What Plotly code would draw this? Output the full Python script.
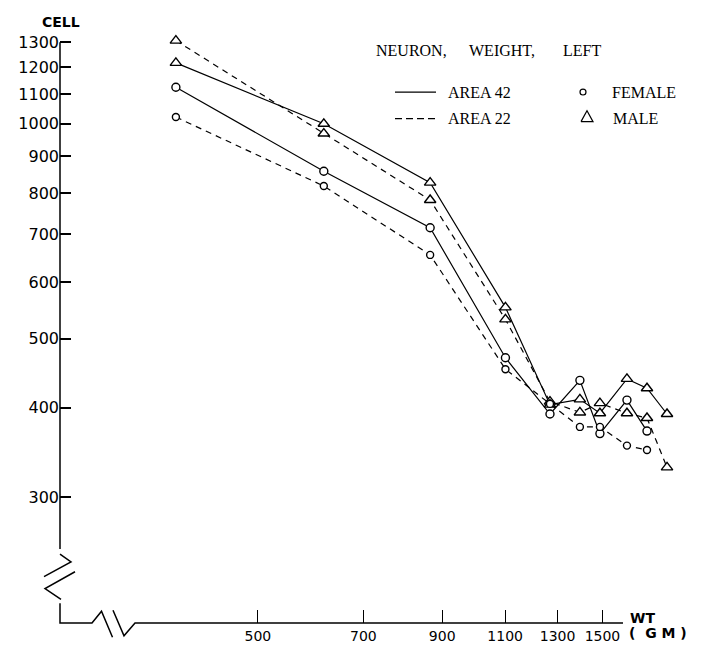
import plotly.graph_objects as go

# ---- data ----
weight_gm = [385, 617, 866, 1101, 1269, 1396, 1488, 1622, 1729, 1843]
female_area42 = [1125, 858, 715, 470, 392, 437, 368, 410, 371]
female_area22 = [1022, 818, 655, 453, 405, 376, 376, 354, 349]
male_area42 = [1217, 1000, 827, 553, 404, 411, 393, 439, 426, 392]
male_area22 = [1308, 969, 782, 532, 408, 394, 406, 393, 387, 330]

y_ticks = [300, 400, 500, 600, 700, 800, 900, 1000, 1100, 1200, 1300]
x_ticks = [500, 700, 900, 1100, 1300, 1500]

W, H = 717, 656
L, R, T, B = 60, 690, 30, 632  # plot area in pixels


def P(px, py):
    return (px - L) / (R - L), (B - py) / (B - T)


fig = go.Figure()

series = [
    (male_area22, "triangle-up", "6px,5px", 10),
    (male_area42, "triangle-up", "solid", 10),
    (female_area42, "circle", "solid", 8),
    (female_area22, "circle", "6px,5px", 7),
]
for vals, sym, dash, sz in series:
    fig.add_trace(go.Scatter(
        x=weight_gm[:len(vals)], y=vals, mode="lines+markers",
        line=dict(color="black", width=1.2, dash=dash),
        marker=dict(symbol=sym, size=sz, color="white",
                    line=dict(color="black", width=1.4)),
        cliponaxis=False, showlegend=False, hoverinfo="skip"))

shapes = []


def seg(points, width=1.5, dash="solid"):
    d = ""
    for i, (px, py) in enumerate(points):
        x, y = P(px, py)
        d += ("M" if i == 0 else "L") + f"{x:.5f},{y:.5f} "
    shapes.append(dict(type="path", path=d, xref="paper", yref="paper",
                       line=dict(color="black", width=width, dash=dash)))


# axes with break marks
seg([(60, 42.5), (60, 557)])
seg([(60, 562), (71, 570), (44, 585)])
seg([(75, 580), (45, 597), (61, 608)])
seg([(60, 612), (60, 632), (92, 632), (101.5, 620), (112.5, 646.5)])
seg([(113, 619), (124, 645), (135, 632), (623, 632)])

# legend samples
seg([(395, 93), (436, 93)], width=1.2)
seg([(395, 120), (436, 120)], width=1.2, dash="7px,4px")
cx0, cy0 = P(580, 90)
cx1, cy1 = P(586, 96)
shapes.append(dict(type="circle", xref="paper", yref="paper",
                   x0=cx0, y0=cy0, x1=cx1, y1=cy1,
                   line=dict(color="black", width=1.2)))
seg([(581, 123), (593, 123), (587, 112), (581, 123)], width=1.2)

fig.update_layout(shapes=shapes)

ann = []


def text(t, px, py, size, family, bold=False, xanchor="left"):
    x, y = P(px, py)
    ann.append(dict(text=f"<b>{t}</b>" if bold else t, x=x, y=y,
                    xref="paper", yref="paper", showarrow=False,
                    xanchor=xanchor, yanchor="middle",
                    font=dict(size=size, family=family, color="black")))


serif = "Liberation Serif"
text("NEURON,", 374, 51, 16, serif)
text("WEIGHT,", 467, 51, 16, serif)
text("LEFT", 561, 51, 16, serif)
text("AREA 42", 446, 93, 16, serif)
text("AREA 22", 446, 120, 16, serif)
text("FEMALE", 610, 93, 16, serif)
text("MALE", 611, 120, 16, serif)
text("CELL", 61, 22, 14, "DejaVu Sans", bold=True, xanchor="center")
text("WT", 628, 627, 14, "DejaVu Sans", bold=True)
nb = "\u00a0"
text(f"({nb}{nb}G{nb}M{nb})", 627, 642, 14, "DejaVu Sans", bold=True)

fig.update_layout(annotations=ann)

xr = [2.42499, 3.29734]
yr = [2.30040, 3.13143]

fig.update_layout(
    width=W, height=H,
    margin=dict(l=L, r=W - R, t=T, b=H - B, pad=0),
    paper_bgcolor="white", plot_bgcolor="white",
    xaxis=dict(type="log", range=xr, tickvals=x_ticks,
               ticktext=[str(v) for v in x_ticks],
               ticks="inside", ticklen=13, tickwidth=1.3, tickcolor="black",
               ticklabelstandoff=3,
               showline=False, showgrid=False, zeroline=False,
               tickfont=dict(family="DejaVu Sans", size=14, color="black")),
    yaxis=dict(type="log", range=yr, tickvals=y_ticks,
               ticktext=[str(v) for v in y_ticks],
               ticks="inside", ticklen=11, tickwidth=1.5, tickcolor="black",
               showline=False, showgrid=False, zeroline=False,
               tickfont=dict(family="DejaVu Sans", size=16, color="black")),
)

fig.write_html(
    "out.html",
    config={"displayModeBar": False},
    post_script="document.body.style.margin='0';document.body.style.overflow='hidden';",
)
